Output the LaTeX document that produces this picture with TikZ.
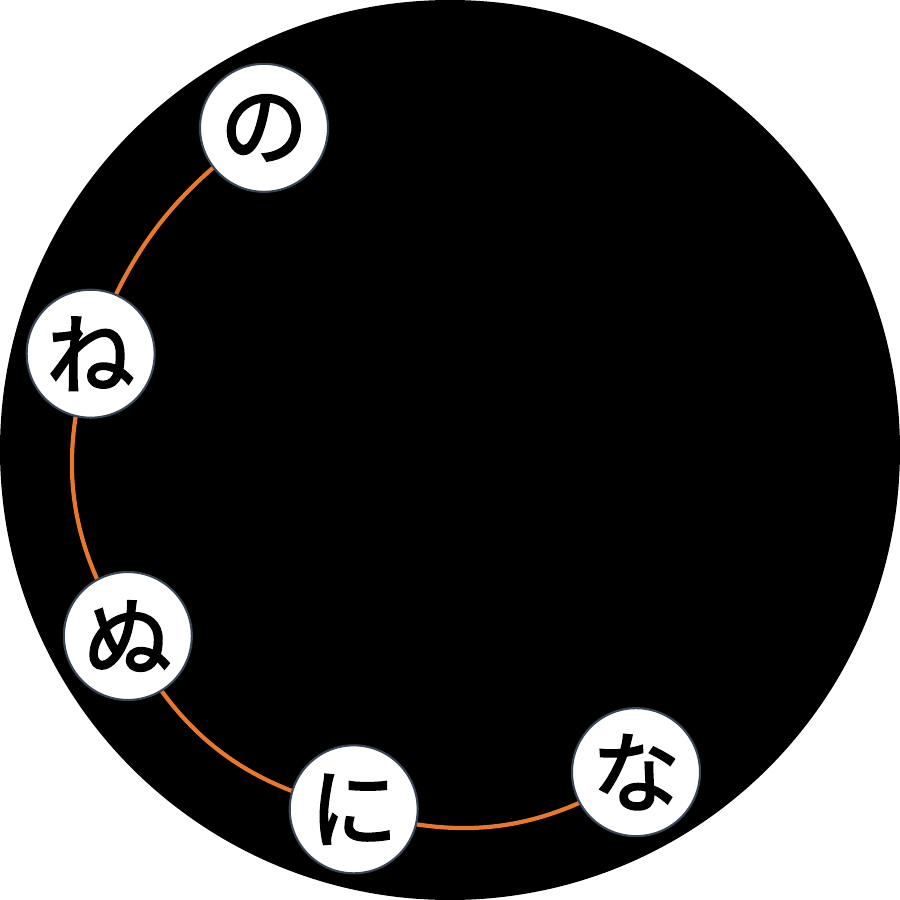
\documentclass[tikz,border=0pt]{standalone}
\usepackage{fontspec}
\newfontfamily\cjk[FakeBold=2.5]{Noto Sans CJK JP}
\definecolor{arcorange}{HTML}{E8782A}
\definecolor{rimgray}{HTML}{3A4656}
\pgfdeclarelayer{background}
\pgfsetlayers{background,main}

\begin{document}
\begin{tikzpicture}[
	kana/.style={circle,fill=white,draw=rimgray,line width=0.6pt,minimum size=1.28cm,inner sep=0pt,font=\cjk\fontsize{25}{25}\selectfont},
	link/.style={draw=arcorange,line width=1.2pt}]
	\useasboundingbox (-4.5,-4.5) rectangle (4.5,4.5);
	\foreach \n/\a/\t in {no/120/の,ne/165/ね,nu/210/ぬ,ni/255/に,na/300/な} {
		\node [kana] (\n) at (\a:3.72) {\t};
	}
	\begin{pgfonlayer}{background}
		\fill[black] (0,0) circle [radius=4.5];
		\foreach \p/\q/\b in {no/ne/17,ne/nu/25,nu/ni/25,ni/na/25} {
			\draw [link] (\p.center) to[bend right=\b] (\q.center);
		}
	\end{pgfonlayer}
\end{tikzpicture}
\end{document}
